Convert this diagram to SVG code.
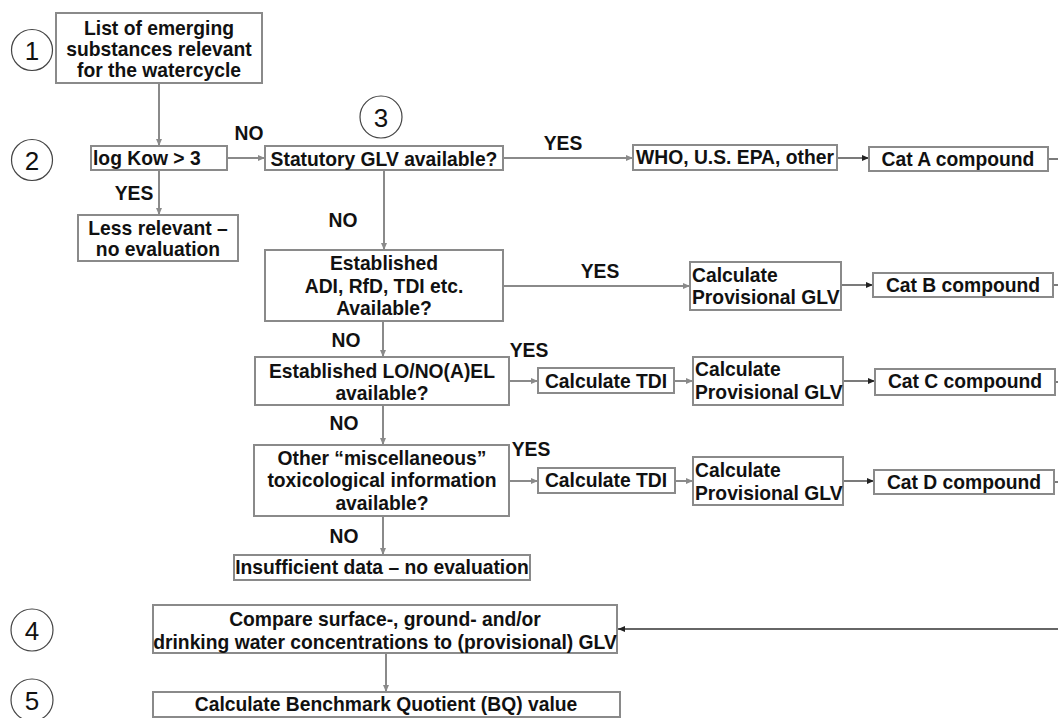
<svg xmlns="http://www.w3.org/2000/svg" width="1058" height="718" viewBox="0 0 1058 718">
<style>
.b{fill:#fff;stroke:#8a8a8a;stroke-width:2}
.t{font-family:"Liberation Sans",Arial,sans-serif;font-weight:bold;font-size:19.3px;fill:#111}
.m{text-anchor:middle}
.n{font-family:"Liberation Sans",Arial,sans-serif;font-size:26px;fill:#111;text-anchor:middle}
.c{fill:#fff;stroke:#444;stroke-width:1.2}
.g{stroke:#8a8a8a;stroke-width:2;fill:none}
.g.a{marker-end:url(#ag)}
.k{stroke:#333;stroke-width:1.3;fill:none}
.k.a{marker-end:url(#ak)}
</style>
<defs>
<marker id="ag" markerUnits="userSpaceOnUse" markerWidth="8" markerHeight="7" refX="7" refY="3.5" orient="auto"><path d="M0,0.5 L7,3.5 L0,6.5 z" fill="#8a8a8a"/></marker>
<marker id="ak" markerUnits="userSpaceOnUse" markerWidth="8" markerHeight="7" refX="7" refY="3.5" orient="auto"><path d="M0,0.5 L7,3.5 L0,6.5 z" fill="#222"/></marker>
</defs>
<rect width="1058" height="718" fill="#fff"/>
<g id="connectors">
<line class="g a" x1="159" y1="83" x2="159" y2="146"/>
<line class="g a" x1="227" y1="158" x2="265" y2="158"/>
<line class="g a" x1="159" y1="170" x2="159" y2="215"/>
<line class="g a" x1="503" y1="158" x2="633" y2="158"/>
<line class="k a" x1="837" y1="158" x2="869" y2="158"/>
<line class="k" x1="1048" y1="159" x2="1058" y2="159"/>
<line class="g a" x1="384" y1="170" x2="384" y2="250"/>
<line class="g a" x1="503" y1="286" x2="690" y2="286"/>
<line class="k a" x1="841" y1="285" x2="873" y2="285"/>
<line class="k" x1="1053" y1="285" x2="1058" y2="285"/>
<line class="g a" x1="383" y1="321" x2="383" y2="357"/>
<line class="g a" x1="509" y1="381" x2="538" y2="381"/>
<line class="g a" x1="674" y1="381" x2="693" y2="381"/>
<line class="k a" x1="843" y1="381" x2="875" y2="381"/>
<line class="k" x1="1055" y1="382" x2="1058" y2="382"/>
<line class="g a" x1="383" y1="405" x2="383" y2="445"/>
<line class="g a" x1="509" y1="481" x2="538" y2="481"/>
<line class="g a" x1="675" y1="481" x2="693" y2="481"/>
<line class="k a" x1="843" y1="481" x2="874" y2="481"/>
<line class="k" x1="1054" y1="482" x2="1058" y2="482"/>
<line class="g a" x1="383" y1="516" x2="383" y2="555"/>
<line class="k a" x1="1058" y1="629" x2="618" y2="629"/>
<line class="g a" x1="386" y1="653" x2="386" y2="692"/>
</g>
<g id="labels">
<text class="t m" x="249" y="140">NO</text>
<text class="t m" x="134" y="200">YES</text>
<text class="t m" x="563" y="150">YES</text>
<text class="t m" x="343" y="227">NO</text>
<text class="t m" x="600" y="278">YES</text>
<text class="t m" x="346" y="347">NO</text>
<text class="t m" x="529" y="357">YES</text>
<text class="t m" x="344" y="430">NO</text>
<text class="t m" x="531" y="456">YES</text>
<text class="t m" x="344" y="543">NO</text>
</g>
<g id="step1"><circle class="c" cx="32" cy="50" r="20.5"/><text class="n" x="32" y="59.5">1</text></g>
<g id="step2"><circle class="c" cx="32" cy="160" r="20.5"/><text class="n" x="32" y="169.5">2</text></g>
<g id="step3"><circle class="c" cx="381" cy="117" r="21"/><text class="n" x="381" y="126.5">3</text></g>
<g id="step4"><circle class="c" cx="32" cy="630" r="21"/><text class="n" x="32" y="639.5">4</text></g>
<g id="step5"><circle class="c" cx="32" cy="700" r="21"/><text class="n" x="32" y="709.5">5</text></g>
<g id="list"><rect class="b" x="56" y="13" width="206" height="70"/>
<text class="t m" x="159" y="34.5">List of emerging</text>
<text class="t m" x="159" y="55.5">substances relevant</text>
<text class="t m" x="159" y="77">for the watercycle</text></g>
<g id="logkow"><rect class="b" x="91" y="146" width="136" height="24"/>
<text class="t" x="93" y="165">log Kow &gt; 3</text></g>
<g id="lessrelevant"><rect class="b" x="78" y="215" width="160" height="46"/>
<text class="t m" x="158" y="235">Less relevant –</text>
<text class="t m" x="158" y="256">no evaluation</text></g>
<g id="statutory"><rect class="b" x="265" y="146" width="238" height="24"/>
<text class="t m" x="384" y="165.5">Statutory GLV available?</text></g>
<g id="who"><rect class="b" x="633" y="145" width="204" height="25"/>
<text class="t m" x="735" y="164">WHO, U.S. EPA, other</text></g>
<g id="catA"><rect class="b" x="869" y="147" width="179" height="24"/>
<text class="t m" x="958" y="166">Cat A compound</text></g>
<g id="established"><rect class="b" x="265" y="250" width="238" height="71"/>
<text class="t m" x="384" y="270">Established</text>
<text class="t m" x="384" y="293">ADI, RfD, TDI etc.</text>
<text class="t m" x="384" y="315">Available?</text></g>
<g id="provB"><rect class="b" x="690" y="262" width="151" height="48"/>
<text class="t" x="692" y="282">Calculate</text>
<text class="t" x="692" y="304">Provisional GLV</text></g>
<g id="catB"><rect class="b" x="873" y="273" width="180" height="24"/>
<text class="t m" x="963" y="292">Cat B compound</text></g>
<g id="loael"><rect class="b" x="255" y="357" width="254" height="48"/>
<text class="t m" x="382" y="377.5">Established LO/NO(A)EL</text>
<text class="t m" x="382" y="400">available?</text></g>
<g id="tdiC"><rect class="b" x="538" y="368" width="136" height="25"/>
<text class="t m" x="606" y="387.5">Calculate TDI</text></g>
<g id="provC"><rect class="b" x="693" y="357" width="150" height="48"/>
<text class="t" x="695" y="376">Calculate</text>
<text class="t" x="695" y="399">Provisional GLV</text></g>
<g id="catC"><rect class="b" x="875" y="369" width="180" height="26"/>
<text class="t m" x="965" y="388">Cat C compound</text></g>
<g id="misc"><rect class="b" x="254" y="445" width="255" height="71"/>
<text class="t m" x="382" y="465">Other “miscellaneous”</text>
<text class="t m" x="382" y="487">toxicological information</text>
<text class="t m" x="382" y="510">available?</text></g>
<g id="tdiD"><rect class="b" x="538" y="468" width="137" height="25"/>
<text class="t m" x="606" y="487">Calculate TDI</text></g>
<g id="provD"><rect class="b" x="693" y="457" width="150" height="48"/>
<text class="t" x="695" y="477">Calculate</text>
<text class="t" x="695" y="500">Provisional GLV</text></g>
<g id="catD"><rect class="b" x="874" y="470" width="180" height="24"/>
<text class="t m" x="964" y="488.5">Cat D compound</text></g>
<g id="insufficient"><rect class="b" x="234" y="555" width="296" height="25"/>
<text class="t m" x="382" y="573.5">Insufficient data – no evaluation</text></g>
<g id="compare"><rect class="b" x="153" y="605" width="464" height="48"/>
<text class="t m" x="385" y="626">Compare surface-, ground- and/or</text>
<text class="t m" x="385" y="648.5">drinking water concentrations to (provisional) GLV</text></g>
<g id="bq"><rect class="b" x="153" y="692" width="467" height="25"/>
<text class="t m" x="386" y="711">Calculate Benchmark Quotient (BQ) value</text></g>
</svg>
